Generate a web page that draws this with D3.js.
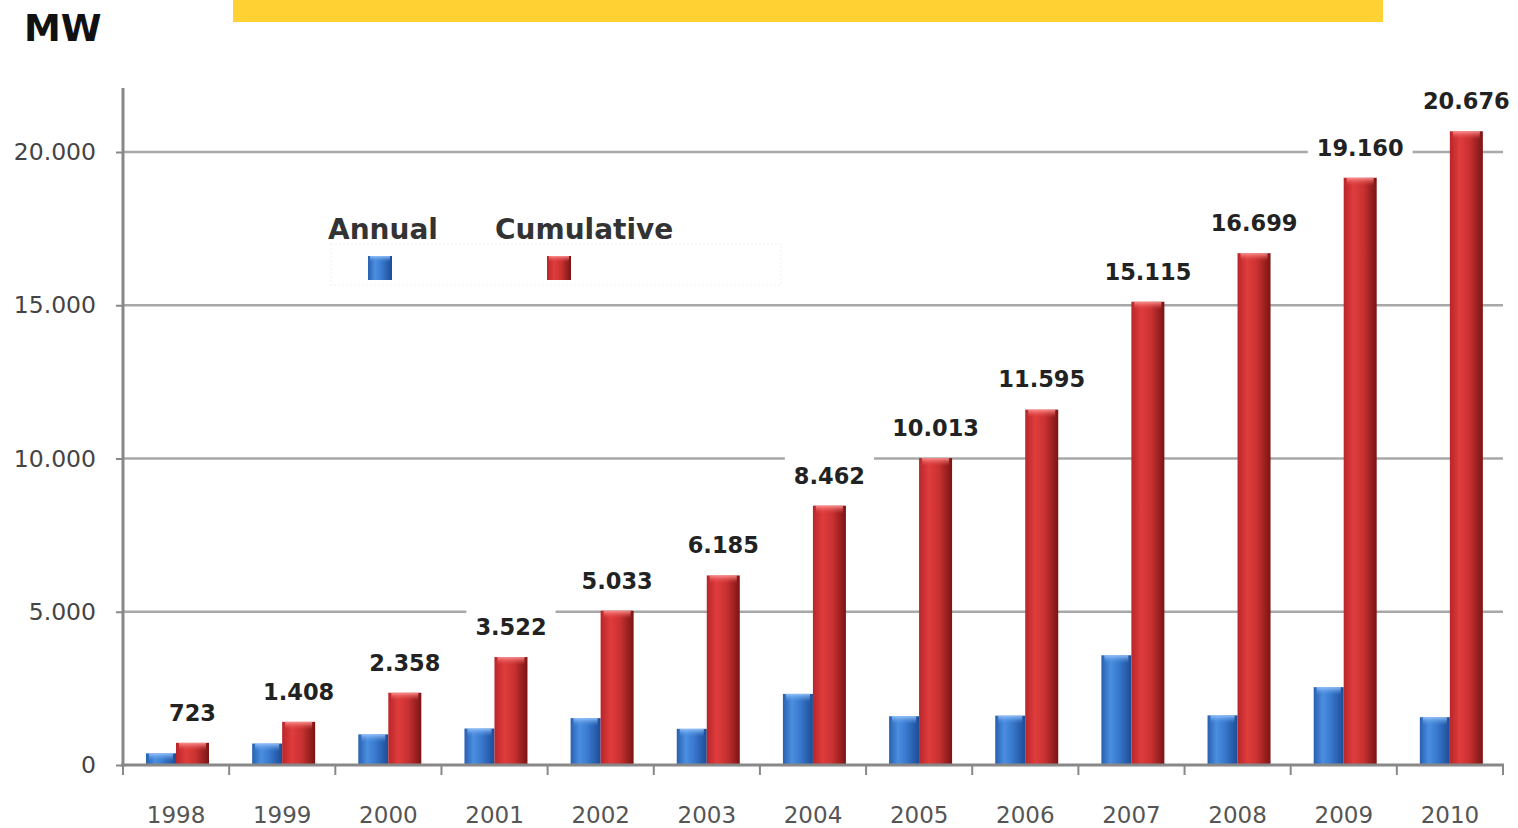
<!DOCTYPE html>
<html>
<head>
<meta charset="utf-8">
<script src="https://cdn.jsdelivr.net/npm/d3@7"></script>
<style>
  html, body { margin: 0; padding: 0; background: #fff; }
  svg { display: block; }
</style>
</head>
<body>
<svg id="chart" width="1518" height="828"></svg>
<script>
const years = ["1998","1999","2000","2001","2002","2003","2004","2005","2006","2007","2008","2009","2010"];
const annual = [380, 700, 1000, 1190, 1530, 1180, 2320, 1590, 1610, 3580, 1620, 2540, 1560];
const cumulative = [723, 1408, 2358, 3522, 5033, 6185, 8462, 10013, 11595, 15115, 16699, 19160, 20676];
const yTicks = [0, 5000, 10000, 15000, 20000];
const seriesNames = ["Annual", "Cumulative"];
const unitLabel = "MW";

const svg = d3.select("#chart");
const fmt = v => d3.format(",")(v).replace(/,/g, ".");

const x = d3.scaleBand().domain(years).range([123, 1503]).padding(0);
const y = d3.scaleLinear().domain([0, 20000]).range([765, 152]);

// gradients
const defs = svg.append("defs");
function grad(id, stops) {
  const g = defs.append("linearGradient").attr("id", id).attr("x1", "0%").attr("x2", "100%").attr("y1", "0%").attr("y2", "0%");
  stops.forEach(s => g.append("stop").attr("offset", s[0]).attr("stop-color", s[1]));
}
grad("gBlue", [["0%", "#2860b0"], ["30%", "#4b8ee0"], ["55%", "#3a7bd0"], ["100%", "#1d4c96"]]);
grad("gRed", [["0%", "#b8262a"], ["30%", "#e03c3c"], ["60%", "#c83131"], ["100%", "#7a1414"]]);
function vgrad(id, stops) {
  const g = defs.append("linearGradient").attr("id", id).attr("x1", "0%").attr("x2", "0%").attr("y1", "0%").attr("y2", "100%");
  stops.forEach(s => g.append("stop").attr("offset", s[0]).attr("stop-color", s[1]).attr("stop-opacity", s[2]));
}
vgrad("capBlue", [["0%", "#9cc8ff", 0.9], ["100%", "#4b8ee0", 0]]);
vgrad("capRed", [["0%", "#ff9a9a", 0.9], ["100%", "#e2403f", 0]]);

// yellow banner
svg.append("rect").attr("x", 233).attr("y", 0).attr("width", 1150).attr("height", 22).attr("fill", "#ffd133");

// unit label
svg.append("text").attr("x", 24).attr("y", 41).text(unitLabel)
  .attr("font-family", "DejaVu Sans").attr("font-weight", "bold").attr("font-size", 37).attr("fill", "#111");

// gridlines
svg.append("g").selectAll("line").data(yTicks.filter(d => d > 0)).join("line")
  .attr("x1", 123).attr("x2", 1503).attr("y1", d => y(d)).attr("y2", d => y(d))
  .attr("stroke", "#a8a8a8").attr("stroke-width", 2.5);

// y axis
const yAxis = svg.append("g").attr("transform", "translate(123,0)")
  .call(d3.axisLeft(y).tickValues(yTicks).tickFormat(fmt).tickSize(7).tickPadding(20));
yAxis.select(".domain").remove();
yAxis.selectAll(".tick line").attr("stroke", "#888").attr("stroke-width", 2);
yAxis.selectAll(".tick text").attr("font-family", "DejaVu Sans").attr("font-size", 23.5).attr("fill", "#444");
svg.append("line").attr("x1", 123).attr("x2", 123).attr("y1", 88).attr("y2", 767)
  .attr("stroke", "#888").attr("stroke-width", 3);

// bars
const bw1 = 30, bw2 = 33, off = 23;
const groups = svg.append("g").selectAll("g").data(years).join("g");
groups.append("rect")
  .attr("x", d => x(d) + off).attr("width", bw1)
  .attr("y", (d, i) => y(annual[i])).attr("height", (d, i) => y(0) - y(annual[i]))
  .attr("fill", "url(#gBlue)");
groups.append("rect")
  .attr("x", d => x(d) + off + 3).attr("width", bw1 - 6)
  .attr("y", (d, i) => y(annual[i])).attr("height", (d, i) => Math.min(8, y(0) - y(annual[i])))
  .attr("fill", "url(#capBlue)");
groups.append("rect")
  .attr("x", d => x(d) + off + bw1).attr("width", bw2)
  .attr("y", (d, i) => y(cumulative[i])).attr("height", (d, i) => y(0) - y(cumulative[i]))
  .attr("fill", "url(#gRed)");
groups.append("rect")
  .attr("x", d => x(d) + off + bw1 + 3).attr("width", bw2 - 6)
  .attr("y", (d, i) => y(cumulative[i])).attr("height", 8)
  .attr("fill", "url(#capRed)");

// x axis
const xAxis = svg.append("g").attr("transform", "translate(0,765)")
  .call(d3.axisBottom(x).tickSize(0).tickPadding(42));
xAxis.select(".domain").remove();
xAxis.selectAll(".tick text").attr("font-family", "DejaVu Sans").attr("font-size", 23).attr("fill", "#555");
svg.append("line").attr("x1", 121).attr("x2", 1504).attr("y1", 765).attr("y2", 765)
  .attr("stroke", "#888").attr("stroke-width", 3);
svg.append("g").selectAll("line").data(years.map(d => x(d)).concat([x.range()[1]])).join("line")
  .attr("x1", d => d).attr("x2", d => d).attr("y1", 765).attr("y2", 775)
  .attr("stroke", "#888").attr("stroke-width", 2);

// data labels with white boxes
const lab = svg.append("g").selectAll("g").data(years).join("g")
  .attr("transform", (d, i) => `translate(${x(d) + off + bw1 + bw2 / 2},${y(cumulative[i]) - 30})`);
lab.each(function(d, i) {
  const g = d3.select(this);
  const t = g.append("text").text(fmt(cumulative[i]))
    .attr("text-anchor", "middle").attr("dy", "0.35em")
    .attr("font-family", "DejaVu Sans").attr("font-weight", "bold").attr("font-size", 22.5).attr("fill", "#222");
  const w = t.node().getComputedTextLength();
  g.insert("rect", "text").attr("x", -w / 2 - 9).attr("y", -20).attr("width", w + 18).attr("height", 44).attr("fill", "#fff");
});

// legend
const leg = svg.append("g");
leg.append("rect").attr("x", 331).attr("y", 244).attr("width", 450).attr("height", 41)
  .attr("fill", "#fff").attr("stroke", "#f0f0f0").attr("stroke-dasharray", "2,2");
const legItems = [
  { name: seriesNames[0], tx: 328, sx: 368, fill: "url(#gBlue)", cap: "url(#capBlue)" },
  { name: seriesNames[1], tx: 495, sx: 547, fill: "url(#gRed)", cap: "url(#capRed)" }
];
legItems.forEach(it => {
  leg.append("text").attr("x", it.tx).attr("y", 239).text(it.name)
    .attr("font-family", "DejaVu Sans").attr("font-weight", "bold").attr("font-size", 28).attr("fill", "#333");
  leg.append("rect").attr("x", it.sx).attr("y", 256).attr("width", 24).attr("height", 24).attr("fill", it.fill);
  leg.append("rect").attr("x", it.sx + 2).attr("y", 256).attr("width", 20).attr("height", 6).attr("fill", it.cap);
});
</script>
</body>
</html>
